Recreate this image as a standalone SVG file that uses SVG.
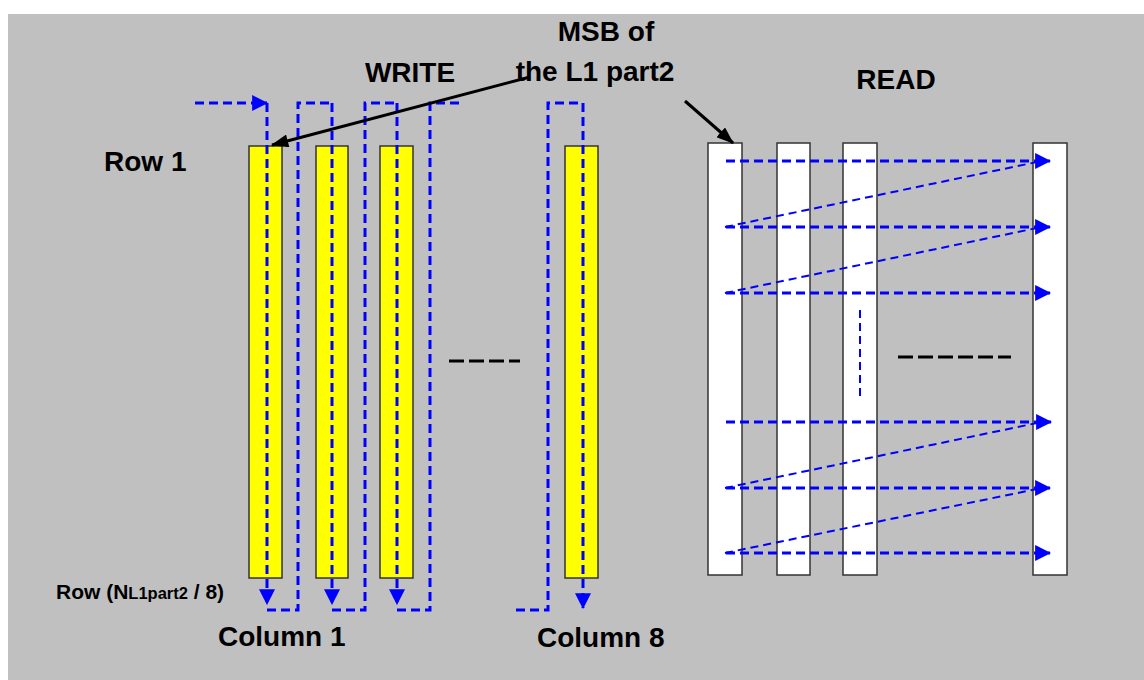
<svg xmlns="http://www.w3.org/2000/svg" width="1144" height="680" viewBox="0 0 1144 680">
<defs>
<style>
.t{font-family:"Liberation Sans",Arial,sans-serif;font-weight:bold;fill:#000}
.big{font-size:28px}
.ybar{fill:#FFFF00;stroke:#333;stroke-width:1.5}
.wbar{fill:#FFFFFF;stroke:#333;stroke-width:1.5}
.bd{fill:none;stroke:#0000FF;stroke-width:3;stroke-dasharray:9,5}
.bdt{fill:none;stroke:#0000FF;stroke-width:2;stroke-dasharray:8,5}
.kd{fill:none;stroke:#000;stroke-width:3;stroke-dasharray:15,5}
.k{fill:none;stroke:#000;stroke-width:3}
</style>
<marker id="ab" viewBox="0 0 14 14" refX="13" refY="7" markerWidth="16" markerHeight="16" markerUnits="userSpaceOnUse" orient="auto">
<path d="M0,0 L14,7 L0,14 z" fill="#0000FF"/>
</marker>
<marker id="ak" viewBox="0 0 16 12" refX="15" refY="6" markerWidth="18" markerHeight="13" markerUnits="userSpaceOnUse" orient="auto">
<path d="M0,0 L16,6 L0,12 z" fill="#000"/>
</marker>
</defs>
<rect x="8" y="14" width="1136" height="666" fill="#C0C0C0"/>

<g id="write-columns">
<g id="wcol1"><rect class="ybar" x="249" y="146" width="33" height="432"/></g>
<g id="wcol2"><rect class="ybar" x="316" y="146" width="32" height="432"/></g>
<g id="wcol3"><rect class="ybar" x="380" y="146" width="33" height="432"/></g>
<g id="wcol8"><rect class="ybar" x="565" y="146" width="33" height="432"/></g>
</g>

<g id="read-columns">
<g id="rcol1"><rect class="wbar" x="708" y="143" width="34" height="432"/></g>
<g id="rcol2"><rect class="wbar" x="777" y="143" width="33" height="432"/></g>
<g id="rcol3"><rect class="wbar" x="843" y="143" width="34" height="432"/></g>
<g id="rcol4"><rect class="wbar" x="1033" y="143" width="34" height="432"/></g>
</g>

<g id="connectors">
<path class="bd" d="M195,103 L267,103" marker-end="url(#ab)"/>
<path class="bd" d="M267,103 L267,604" marker-end="url(#ab)"/>
<path class="bd" d="M332,103 L332,604" marker-end="url(#ab)"/>
<path class="bd" d="M397,103 L397,604" marker-end="url(#ab)"/>
<path class="bd" d="M583,103 L583,608" marker-end="url(#ab)"/>
<path class="bd" d="M267,610 L298,610 L298,103 L332,103"/>
<path class="bd" d="M332,610 L365,610 L365,103 L397,103"/>
<path class="bd" d="M397,610 L430,610 L430,103 L463,103"/>
<path class="bd" d="M516,610 L548,610 L548,103 L583,103"/>
<path class="kd" d="M449,361 L520,361"/>
<path class="k" d="M530,77 L272,145" marker-end="url(#ak)"/>
<path class="k" d="M685,101 L733,143" marker-end="url(#ak)"/>

<path class="bd" d="M726,161 L1050,161" marker-end="url(#ab)"/>
<path class="bd" d="M726,227 L1050,227" marker-end="url(#ab)"/>
<path class="bd" d="M726,293 L1050,293" marker-end="url(#ab)"/>
<path class="bd" d="M726,422 L1051,422" marker-end="url(#ab)"/>
<path class="bd" d="M726,488 L1050,488" marker-end="url(#ab)"/>
<path class="bd" d="M726,553 L1050,553" marker-end="url(#ab)"/>
<path class="bdt" d="M725,227 L1037,162"/>
<path class="bdt" d="M725,293 L1037,228"/>
<path class="bdt" d="M725,488 L1037,423"/>
<path class="bdt" d="M725,553 L1037,489"/>
<path class="bdt" d="M860,310 L860,400"/>
<path class="kd" d="M898,357 L1011,357"/>
</g>

<g id="labels">
<text class="t big" x="606" y="41" text-anchor="middle">MSB of</text>
<text class="t big" x="595" y="81" text-anchor="middle">the L1 part2</text>
<text class="t big" x="410" y="82" text-anchor="middle">WRITE</text>
<text class="t big" x="896" y="89" text-anchor="middle">READ</text>
<text class="t big" x="104" y="171">Row 1</text>
<text class="t" x="56" y="599" font-size="21">Row (N<tspan font-size="16.5">L1part2</tspan> / 8)</text>
<text class="t big" x="218" y="646">Column 1</text>
<text class="t big" x="537" y="647">Column 8</text>
</g>
</svg>
